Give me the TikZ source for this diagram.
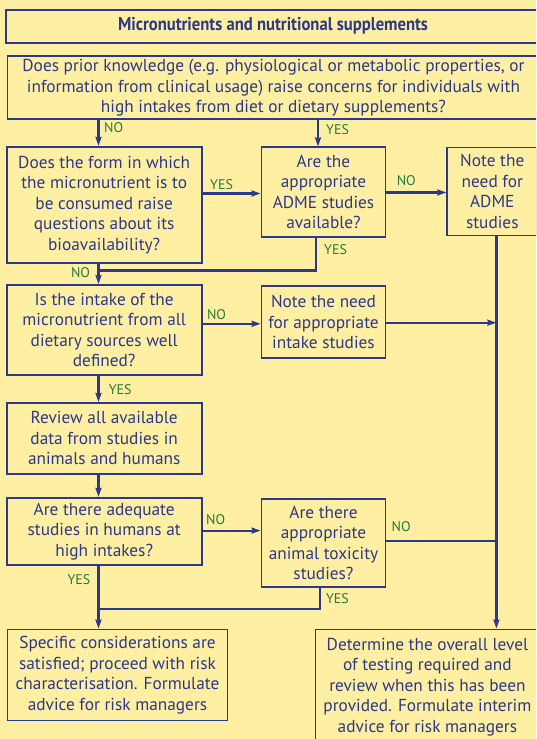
\documentclass[tikz,border=0pt]{standalone}
\usepackage{fontspec}
\usepackage{graphicx}
\setmainfont{PT Sans}
\usetikzlibrary{arrows.meta,calc}
\definecolor{paper}{RGB}{254,239,162}
\definecolor{ink}{RGB}{43,56,140}
\definecolor{tagc}{RGB}{38,122,56}
\tikzset{
  box/.style={draw=ink,line width=1.8pt,fill=paper,text=ink,align=center,inner sep=0pt,
    font=\fontsize{17.3}{20.5}\selectfont},
  link/.style={draw=ink,line width=2.2pt},
  arr/.style={link,-{Stealth[length=9pt,width=6pt,inset=1pt]}},
  tag/.style={text=tagc,font=\fontsize{14}{15}\selectfont,inner sep=0pt,anchor=west},
}
\begin{document}
\begin{tikzpicture}[x=1pt,y=-1pt]
\useasboundingbox (0,0) rectangle (536,739);
\fill[paper] (0,0) rectangle (536,739);
\clip (0,0) rectangle (536,739);

% boxes
\node[box,minimum width=534pt,minimum height=33pt,font=\fontsize{18.5}{20}\selectfont] (title) at (273,26.2)
  {\scalebox{0.9}[1]{\bfseries Micronutrients and nutritional supplements}};
\node[box,minimum width=532pt,minimum height=63pt] (top) at (273.5,87.7)
  {Does prior knowledge (e.g. physiological or metabolic properties, or\\
   information from clinical usage) raise concerns for individuals with\\
   high intakes from diet or dietary supplements?};
\node[box,minimum width=195pt,minimum height=116pt] (A) at (104.2,204.8)
  {Does the form in which\\the micronutrient is to\\be consumed raise\\questions about its\\bioavailability?};
\node[box,minimum width=124pt,minimum height=89.5pt] (B) at (323.5,192.1)
  {Are the\\appropriate\\ADME studies\\available?};
\node[box,minimum width=90pt,minimum height=88pt] (C) at (492.3,191.5)
  {Note the\\need for\\ADME\\studies};
\node[box,minimum width=195pt,minimum height=90pt] (D) at (104.2,330)
  {Is the intake of the\\micronutrient from all\\dietary sources well\\defined?};
\node[box,minimum width=124pt,minimum height=72pt] (E) at (323.5,322.1)
  {Note the need\\for appropriate\\intake studies};
\node[box,minimum width=195pt,minimum height=71pt] (F) at (104.2,438.4)
  {Review all available\\data from studies in\\animals and humans};
\node[box,minimum width=195pt,minimum height=67pt] (G) at (104.2,531.3)
  {Are there adequate\\studies in humans at\\high intakes?};
\node[box,minimum width=124pt,minimum height=88pt] (H) at (323.5,542.7)
  {Are there\\appropriate\\animal toxicity\\studies?};
\node[box,minimum width=220pt,minimum height=91pt] (I) at (117.5,675)
  {Specific considerations are\\satisfied; proceed with risk\\characterisation. Formulate\\advice for risk managers};
\node[box,minimum width=224pt,minimum height=115pt] (J) at (427.4,687)
  {Determine the overall level\\of testing required and\\review when this has been\\provided. Formulate interim\\advice for risk managers};

% routing guides
\coordinate (xL) at (98.5,0);
\coordinate (xB1) at (318,0);
\coordinate (xB2) at (316,0);
\coordinate (xH) at (320,0);
\coordinate (xR) at (496.4,0);
\coordinate (yJ1) at (0,270.4);
\coordinate (yJ2) at (0,609);
\coordinate (yAB) at (0,193.5);
\coordinate (yBC) at (0,192.5);
\coordinate (yDE) at (0,323.8);
\coordinate (yER) at (0,322.7);
\coordinate (yGH) at (0,530.6);
\coordinate (yHR) at (0,541);

% connectors
\draw[arr] (top.south -| xL) -- (A.north -| xL);
\draw[arr] (top.south -| xB1) -- (B.north -| xB1);
\draw[arr] (A.east |- yAB) -- (B.west |- yAB);
\draw[arr] (B.east |- yBC) -- (C.west |- yBC);
\draw[link] (B.south -| xB2) -- (xB2 |- yJ1) -- (xL |- yJ1);
\draw[arr] (A.south -| xL) -- (D.north -| xL);
\draw[arr] (D.east |- yDE) -- (E.west |- yDE);
\draw[arr] (E.east |- yER) -- (xR |- yER);
\draw[arr] (C.south -| xR) -- (J.north -| xR);
\draw[arr] (D.south -| xL) -- (F.north -| xL);
\draw[arr] (F.south -| xL) -- (G.north -| xL);
\draw[arr] (G.east |- yGH) -- (H.west |- yGH);
\draw[link] (H.east |- yHR) -- (xR |- yHR);
\draw[arr] (G.south -| xL) -- (I.north -| xL);
\draw[link] (H.south -| xH) -- (xH |- yJ2) -- (xL |- yJ2);

% answer labels
\node[tag] (t1) at (104,127.5) {NO};
\node[tag] (t2) at (326,129.6) {YES};
\node[tag] (t3) at (210,184.3) {YES};
\node[tag] (t4) at (396.6,180.9) {NO};
\node[tag] (t5) at (324,250) {YES};
\node[tag] (t6) at (70.8,272.8) {NO};
\node[tag] (t7) at (206.8,314.2) {NO};
\node[tag] (t8) at (108.7,389.4) {YES};
\node[tag] (t9) at (206,520) {NO};
\node[tag] (t10) at (391.5,527) {NO};
\node[tag] (t11) at (67.4,579.1) {YES};
\node[tag] (t12) at (325.8,598.6) {YES};
\end{tikzpicture}
\end{document}
